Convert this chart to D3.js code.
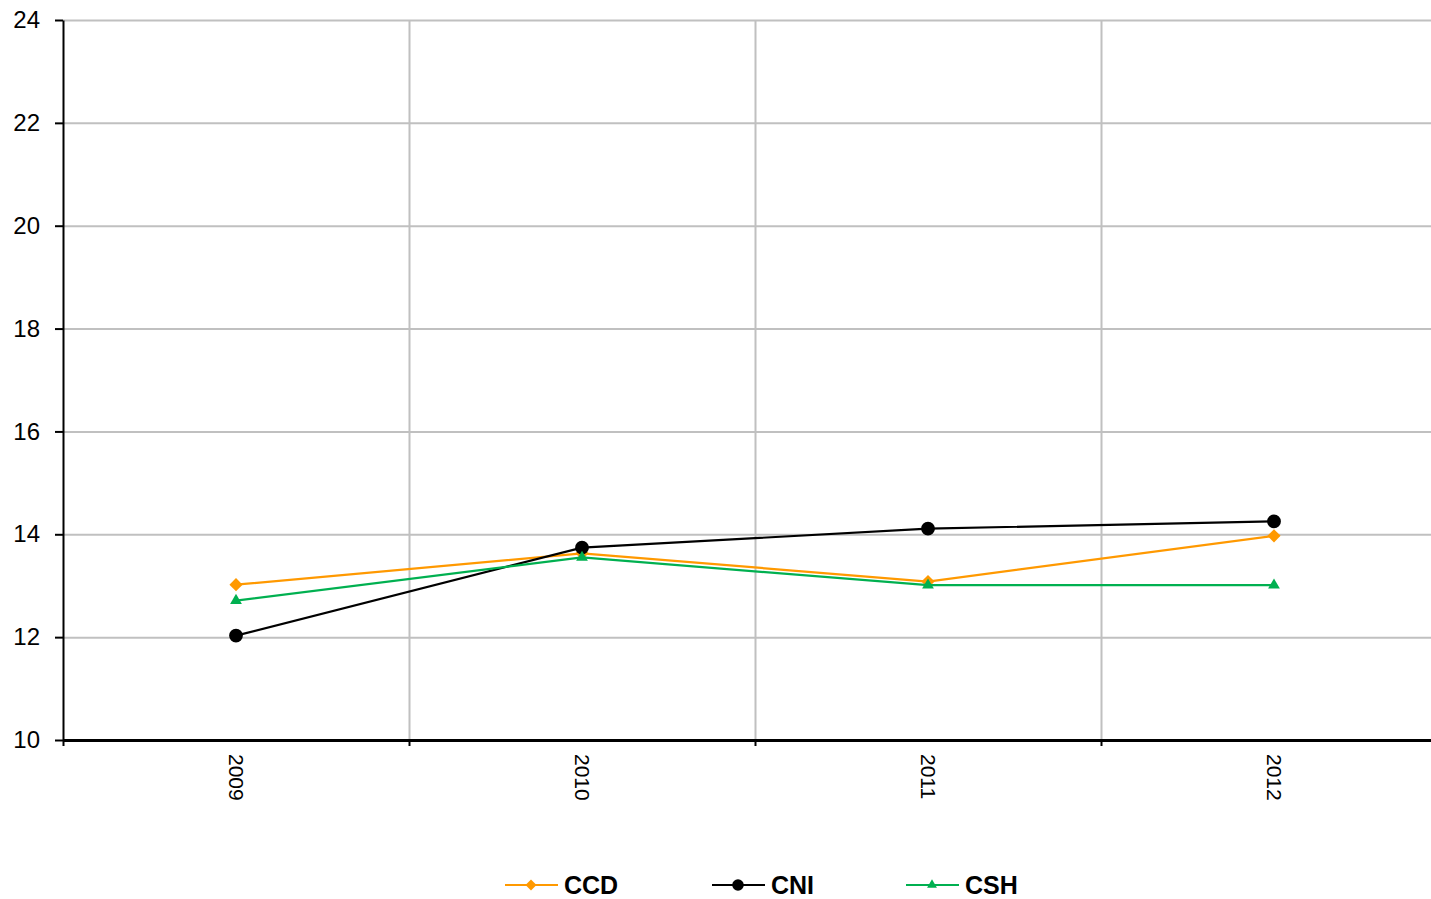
<!DOCTYPE html>
<html>
<head>
<meta charset="utf-8">
<script src="https://cdn.jsdelivr.net/npm/d3@7"></script>
<style>
  html, body { margin: 0; padding: 0; background: #fff; overflow: hidden; }
  svg { display: block; font-family: "Liberation Sans", Arial, sans-serif; }
  .gridline { stroke: #c0c0c0; stroke-width: 2; }
</style>
</head>
<body>
<svg id="chart" width="1431" height="899"></svg>
<script>
"use strict";

/* ── Data ─────────────────────────────────────────────── */
const years  = ["2009", "2010", "2011", "2012"];
const ccd    = [13.02, 13.63, 13.08, 13.97];
const cni    = [12.03, 13.74, 14.11, 14.25];
const csh    = [12.71, 13.55, 13.01, 13.01];
const yTicks = [10, 12, 14, 16, 18, 20, 22, 24];

const series = [
  { name: "CCD", values: ccd, color: "#FF9900", symbol: d3.symbolDiamond2, size: 110 },
  { name: "CNI", values: cni, color: "#000000", symbol: d3.symbolCircle,   size: 150 },
  { name: "CSH", values: csh, color: "#00B050", symbol: d3.symbolTriangle, size: 60 },
];

/* ── Layout ───────────────────────────────────────────── */
const M = { left: 63, top: 20, bottom: 740 };
const BAND = 346;

const svg = d3.select("#chart");

const x  = d3.scaleBand().domain(years).range([M.left, M.left + BAND * years.length]);
const xb = d3.scaleLinear().domain([0, years.length]).range([M.left, M.left + BAND * years.length]);
const y  = d3.scaleLinear().domain([10, 24]).range([M.bottom, M.top]);

/* Gridlines */
svg.append("g")
  .attr("transform", `translate(${M.left},0)`)
  .call(d3.axisLeft(y).tickValues(yTicks.slice(1)).tickSize(-1431).tickFormat(""))
  .call((a) => {
    a.select(".domain").remove();
    a.selectAll("line").attr("class", "gridline");
  });

svg.append("g")
  .attr("transform", `translate(0,${M.top})`)
  .call(d3.axisBottom(xb).tickValues([1, 2, 3]).tickSize(M.bottom - M.top).tickFormat(""))
  .call((a) => {
    a.select(".domain").remove();
    a.selectAll("line").attr("class", "gridline");
  });

/* Y axis */
svg.append("g")
  .attr("transform", `translate(${M.left},0)`)
  .call(d3.axisLeft(y).tickValues(yTicks).tickSize(8).tickSizeOuter(0).tickPadding(15))
  .call((a) => {
    a.select(".domain").attr("stroke-width", 2);
    a.selectAll("line").attr("stroke-width", 2);
    a.selectAll("text").attr("font-size", 24).attr("fill", "#000")
      .attr("font-family", "Liberation Sans, Arial, sans-serif");
  });

/* X axis: ticks at band edges */
svg.append("g")
  .attr("transform", `translate(0,${M.bottom})`)
  .call(d3.axisBottom(xb).tickValues([0, 1, 2, 3, 4]).tickSize(6).tickSizeOuter(0).tickFormat(""))
  .call((a) => {
    a.select(".domain").attr("stroke-width", 3);
    a.selectAll("line").attr("stroke-width", 2);
  });

/* X labels, rotated */
svg.append("g")
  .attr("transform", `translate(0,${M.bottom})`)
  .call(d3.axisBottom(x).tickSize(0).tickPadding(0))
  .call((a) => {
    a.select(".domain").remove();
    a.selectAll("text")
      .attr("font-size", 21).attr("fill", "#000")
      .attr("font-family", "Liberation Sans, Arial, sans-serif")
      .attr("transform", "rotate(90)")
      .attr("text-anchor", "start")
      .attr("dy", "0.35em")
      .attr("x", 14)
      .attr("y", 0);
  });

/* Lines and markers */
const line = d3.line()
  .x((d, i) => x(years[i]) + x.bandwidth() / 2)
  .y((d) => y(d));

series.forEach((s) => {
  const g = svg.append("g");
  g.append("path")
    .datum(s.values)
    .attr("fill", "none")
    .attr("stroke", s.color)
    .attr("stroke-width", 2.2)
    .attr("d", line);
  g.selectAll("path.mk")
    .data(s.values)
    .join("path")
    .attr("class", "mk")
    .attr("d", d3.symbol(s.symbol, s.size))
    .attr("fill", s.color)
    .attr("transform", (d, i) => `translate(${x(years[i]) + x.bandwidth() / 2},${y(d)})`);
});

/* Legend */
const legendX = [505, 712, 906];
const legendY = 885;
const lg = svg.append("g");
series.forEach((s, i) => {
  const gx = legendX[i];
  lg.append("line")
    .attr("x1", gx).attr("x2", gx + 53)
    .attr("y1", legendY).attr("y2", legendY)
    .attr("stroke", s.color).attr("stroke-width", 2.2);
  lg.append("path")
    .attr("d", d3.symbol(s.symbol, s.size * 0.7))
    .attr("fill", s.color)
    .attr("transform", `translate(${gx + 26},${legendY})`);
  lg.append("text")
    .attr("x", gx + 59).attr("y", legendY)
    .attr("dy", "0.36em")
    .attr("font-size", 25).attr("font-weight", "bold")
    .text(s.name);
});
</script>
</body>
</html>
